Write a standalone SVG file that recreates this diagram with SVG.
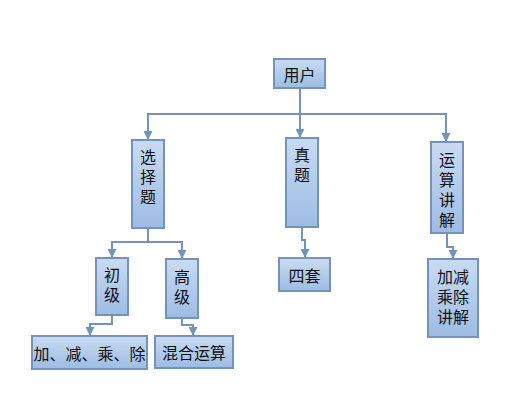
<svg xmlns="http://www.w3.org/2000/svg" width="522" height="409" viewBox="0 0 522 409">
<defs>
<linearGradient id="g" x1="0" y1="0" x2="0" y2="1">
<stop offset="0" stop-color="#c9dbf2"/>
<stop offset="1" stop-color="#9dbce3"/>
</linearGradient>
<marker id="a" markerUnits="userSpaceOnUse" markerWidth="10" markerHeight="9" viewBox="0 0 10 9" refX="9" refY="4.5" orient="auto">
<path d="M0,0 L9,4.5 L0,9 z" fill="#7393bd"/>
</marker>
<style>
.n rect{fill:url(#g);stroke:#7393bd;stroke-width:2}
.n text{font-family:"Noto Sans CJK SC","Noto Sans CJK JP",sans-serif;font-size:16px;fill:#111;text-anchor:middle;dominant-baseline:central}
.n text.v{writing-mode:vertical-rl;letter-spacing:4px}
.n text.g{font-family:"Liberation Sans","Noto Sans CJK SC",sans-serif}
.c path{fill:none;stroke:#7393bd;stroke-width:2;marker-end:url(#a)}
</style>
</defs>
<rect width="522" height="409" fill="#fff"/>
<g class="c">
<path d="M300,88 V114 H148 V140"/>
<path d="M300,114 V138"/>
<path d="M300,114 H446 V142"/>
<path d="M148,228 V242 H112 V258"/>
<path d="M148,242 H182 V259"/>
<path d="M112,315 V324 H90 V336"/>
<path d="M182,318 V325 H193 V336"/>
<path d="M302,227 V240 H305 V258"/>
<path d="M447,233 V247 H453 V259"/>
</g>
<g class="n" id="yonghu"><rect x="274" y="59" width="51" height="29"/><text x="299.5" y="74">用户</text></g>
<g class="n" id="xuanze"><rect x="132" y="140" width="32" height="88"/><text class="v" x="148" y="179">选择题</text></g>
<g class="n" id="zhenti"><rect x="286" y="138" width="32" height="89"/><text class="v" x="302" y="167">真题</text></g>
<g class="n" id="yunsuan"><rect x="431" y="142" width="32" height="91"/><text class="v" x="447" y="192">运算讲解</text></g>
<g class="n" id="chuji"><rect x="96" y="258" width="32" height="57"/><text class="v" x="112" y="287">初级</text></g>
<g class="n" id="gaoji"><rect x="166" y="259" width="32" height="59"/><text class="v" x="182" y="289">高级</text></g>
<g class="n" id="jjcc"><rect x="32" y="336" width="115" height="33"/><text x="89.5" y="352.5">加、减、乘、除</text></g>
<g class="n" id="hunhe"><rect x="155" y="336" width="78" height="32"/><text x="194" y="352">混合运算</text></g>
<g class="n" id="sitao"><rect x="279" y="258" width="51" height="33"/><text x="304.5" y="274.5">四套</text></g>
<g class="n" id="jjccjj"><rect x="428" y="259" width="50" height="78"/><text class="g" x="453" y="277"><tspan x="453">加减</tspan><tspan x="453" dy="20">乘除</tspan><tspan x="453" dy="20">讲解</tspan></text></g>
</svg>
